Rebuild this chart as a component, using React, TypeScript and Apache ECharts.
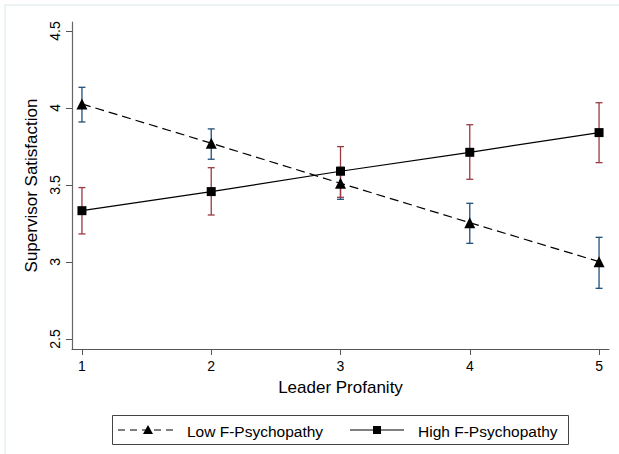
import React, { useEffect, useRef } from "react";
import * as echarts from "echarts";

const xValues = [1, 2, 3, 4, 5];
const xTicks = [1, 2, 3, 4, 5];
const yTicks = [2.5, 3, 3.5, 4, 4.5];

const lowMean = [4.026, 3.771, 3.511, 3.255, 3.002];
const lowUpper = [4.134, 3.864, 3.615, 3.381, 3.16];
const lowLower = [3.909, 3.667, 3.407, 3.121, 2.829];

const highMean = [3.333, 3.457, 3.589, 3.712, 3.84];
const highUpper = [3.483, 3.612, 3.749, 3.891, 4.034];
const highLower = [3.182, 3.305, 3.42, 3.537, 3.645];

const lowName = "Low F-Psychopathy";
const highName = "High F-Psychopathy";
const xTitle = "Leader Profanity";
const yTitle = "Supervisor Satisfaction";

const FONT = "'Liberation Sans', Arial, sans-serif";
const BLUE = "#1f4f7a";
const RED = "#993a42";

function errorSeries(name: string, upper: number[], lower: number[], color: string) {
  return {
    type: "custom",
    name,
    silent: true,
    data: xValues.map((x, i) => [x, lower[i], upper[i]]),
    encode: { x: 0, y: [1, 2] },
    renderItem: (params: any, api: any) => {
      const x = api.value(0);
      const lo = api.coord([x, api.value(1)]);
      const hi = api.coord([x, api.value(2)]);
      const hw = 3.5;
      const style = { stroke: color, lineWidth: 1.3 };
      return {
        type: "group",
        children: [
          { type: "line", shape: { x1: hi[0], y1: hi[1], x2: lo[0], y2: lo[1] }, style },
          { type: "line", shape: { x1: hi[0] - hw, y1: hi[1], x2: hi[0] + hw, y2: hi[1] }, style },
          { type: "line", shape: { x1: lo[0] - hw, y1: lo[1], x2: lo[0] + hw, y2: lo[1] }, style },
        ],
      };
    },
    z: 2,
  };
}

export default function App() {
  const ref = useRef<HTMLDivElement>(null);
  useEffect(() => {
    document.body.style.margin = "0";
    if (!ref.current) return;
    const chart = echarts.init(ref.current, null, { renderer: "svg" });
    const legendY = 430;
    chart.setOption({
      animation: false,
      backgroundColor: "#ffffff",
      textStyle: { fontFamily: FONT },
      grid: { left: 72, right: 10, top: 22, bottom: 105, containLabel: false },
      xAxis: {
        type: "value",
        min: 0.923,
        max: 5.077,
        name: xTitle,
        nameLocation: "middle",
        nameGap: 30,
        nameTextStyle: { fontSize: 17, color: "#000", fontFamily: FONT },
        axisLine: { show: true, lineStyle: { color: "#555", width: 1 } },
        axisTick: { show: true, length: 6, customValues: xTicks, lineStyle: { color: "#555" } },
        axisLabel: { customValues: xTicks, fontSize: 14, color: "#000", margin: 10, fontFamily: FONT },
        splitLine: { show: false },
      },
      yAxis: {
        type: "value",
        min: 2.435,
        max: 4.558,
        name: yTitle,
        nameLocation: "middle",
        nameGap: 30,
        nameRotate: 90,
        nameTextStyle: { fontSize: 17, color: "#000", fontFamily: FONT },
        axisLine: { show: true, lineStyle: { color: "#666", width: 1.2 } },
        axisTick: { show: true, length: 6, customValues: yTicks, lineStyle: { color: "#555" } },
        axisLabel: {
          customValues: yTicks,
          rotate: 90,
          fontSize: 14,
          color: "#000",
          margin: 10,
          fontFamily: FONT,
          formatter: (v: number) => String(v),
        },
        splitLine: { show: false },
      },
      series: [
        errorSeries("Low CI", lowUpper, lowLower, BLUE),
        errorSeries("High CI", highUpper, highLower, RED),
        {
          type: "line",
          name: lowName,
          data: xValues.map((x, i) => [x, lowMean[i]]),
          symbol: "triangle",
          symbolSize: 11,
          itemStyle: { color: "#000" },
          lineStyle: { color: "#000", width: 1.2, type: [9, 5] },
          z: 3,
        },
        {
          type: "line",
          name: highName,
          data: xValues.map((x, i) => [x, highMean[i]]),
          symbol: "rect",
          symbolSize: 9,
          itemStyle: { color: "#000" },
          lineStyle: { color: "#000", width: 1.2 },
          z: 4,
        },
      ],
      graphic: [
        {
          type: "rect",
          shape: { x: 5, y: 5, width: 800, height: 800 },
          style: { fill: "none", stroke: "#e6eff1", lineWidth: 1.5 },
          silent: true,
          z: -1,
        },
        {
          type: "rect",
          shape: { x: 112.5, y: 415.5, width: 456, height: 29 },
          style: { fill: "#fff", stroke: "#444", lineWidth: 1 },
        },
        {
          type: "line",
          shape: { x1: 118, y1: legendY, x2: 178, y2: legendY },
          style: { stroke: "#000", lineWidth: 1.2, lineDash: [7, 5] },
        },
        {
          type: "polygon",
          shape: { points: [[148, legendY - 5], [153, legendY + 4], [143, legendY + 4]] },
          style: { fill: "#000" },
        },
        {
          type: "text",
          x: 187,
          y: legendY + 1,
          style: { text: lowName, font: `15.5px ${FONT}`, fill: "#000", verticalAlign: "middle", align: "left" },
        },
        {
          type: "line",
          shape: { x1: 350, y1: legendY, x2: 404, y2: legendY },
          style: { stroke: "#000", lineWidth: 1.2 },
        },
        {
          type: "rect",
          shape: { x: 373, y: legendY - 4, width: 8, height: 8 },
          style: { fill: "#000" },
        },
        {
          type: "text",
          x: 418,
          y: legendY + 1,
          style: { text: highName, font: `15.5px ${FONT}`, fill: "#000", verticalAlign: "middle", align: "left" },
        },
      ],
    });
    return () => chart.dispose();
  }, []);
  return <div ref={ref} style={{ width: 619, height: 454 }} />;
}
